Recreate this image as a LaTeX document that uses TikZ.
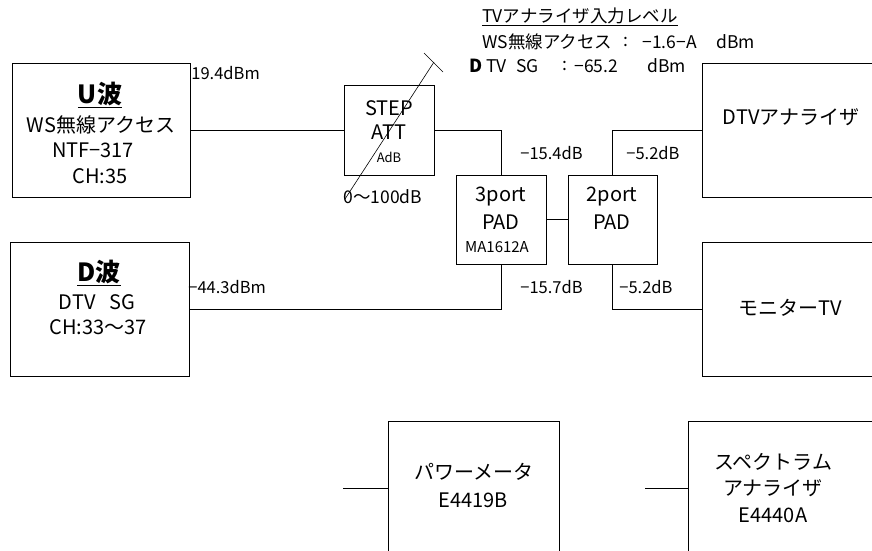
\documentclass[tikz,border=0pt]{standalone}
\usepackage{fontspec}
\setmainfont{Noto Sans CJK JP}
\begin{document}
\begin{tikzpicture}[x=1pt,y=-1pt,line width=0.8pt,
  box/.style={draw=black,rectangle,inner sep=0pt},
  big/.style={font=\fontsize{25}{28}\selectfont\bfseries,inner sep=0pt},
  main/.style={font=\fontsize{20}{22}\selectfont,inner sep=0pt},
  small/.style={font=\fontsize{13}{15}\selectfont,inner sep=0pt},
  lab/.style={font=\fontsize{16.5}{18}\selectfont,inner sep=0pt,anchor=west},
  toptxt/.style={font=\fontsize{17.5}{19}\selectfont,inner sep=0pt,anchor=west}]
\useasboundingbox (0,0) rectangle (872,551);
\clip (0,0) rectangle (872,551);
% boxes
\node[box,minimum width=178pt,minimum height=134pt] (u) at (101,130) {};
\node[box,minimum width=90pt,minimum height=90pt] (step) at (389,130) {};
\node[box,minimum width=90pt,minimum height=89pt] (p3) at (501,219.5) {};
\node[box,minimum width=89pt,minimum height=89pt] (p2) at (612.5,219.5) {};
\node[box,minimum width=178pt,minimum height=134pt] (dtv) at (791,130) {};
\node[box,minimum width=179pt,minimum height=134pt] (d) at (99.5,309) {};
\node[box,minimum width=178pt,minimum height=134pt] (mon) at (791,309) {};
\node[box,minimum width=171pt,minimum height=134pt] (pm) at (473.5,488) {};
\node[box,minimum width=192pt,minimum height=134pt] (sa) at (784,488) {};
% texts in boxes
\node[big] (ut1) at (100,95) {\underline{U波}};
\node[main] (ut2) at (101,125) {WS無線アクセス};
\node[main] (ut3) at (93,150) {NTF−317};
\node[main] (ut4) at (100,176) {CH:35};
\node[big] (dt1) at (99,273) {\underline{D波}};
\node[main] (dt2) at (97,302) {DTV\hspace{0.7em}SG};
\node[main] (dt3) at (98,327) {CH:33～37};
\node[main] (st1) at (389,108) {STEP};
\node[main] (st2) at (389,132) {ATT};
\node[small] (st3) at (389,157) {AdB};
\node[main] (p3t1) at (501,197) {3port};
\node[main] (p3t2) at (501,222) {PAD};
\node[small,font=\fontsize{15}{17}\selectfont] (p3t3) at (497,247) {MA1612A};
\node[main] (p2t1) at (612,197) {2port};
\node[main] (p2t2) at (612,222) {PAD};
\node[main] (dtvt) at (791,117) {DTVアナライザ};
\node[main] (mont) at (790,308) {モニターTV};
\node[main] (pmt1) at (474,472) {パワーメータ};
\node[main] (pmt2) at (473,500) {E4419B};
\node[main] (sat1) at (773,462) {スペクトラム};
\node[main] (sat2) at (773,488) {アナライザ};
\node[main] (sat3) at (773,515) {E4440A};
% connectors
\draw (u.east) -- (step.west);
\draw (step.east) -| (p3.north);
\draw (d.east) -| (p3.south);
\draw (p3.east) -- (p2.west);
\draw (p2.north) |- (dtv.west);
\draw (p2.south) |- (mon.west);
\coordinate (pmin) at (343,488);
\coordinate (sain) at (645,488);
\draw (pmin) -- (pm.west);
\draw (sain) -- (sa.west);
% variable attenuator symbol
\coordinate (attA) at (345,199);
\coordinate (attB) at (434,62);
\coordinate (tk1) at (424,53);
\coordinate (tk2) at (443,72);
\draw[line width=0.6pt] (attA) -- (attB);
\draw[line width=0.6pt] (tk1) -- (tk2);
% level labels
\node[lab] (l1) at (191,73) {19.4dBm};
\node[lab] (l2) at (188,287) {−44.3dBm};
\node[lab] (l3) at (520,153) {−15.4dB};
\node[lab] (l4) at (626,153) {−5.2dB};
\node[lab] (l5) at (520,287) {−15.7dB};
\node[lab] (l6) at (619,287) {−5.2dB};
\node[lab,font=\fontsize{17.5}{19}\selectfont] (l7) at (343,197) {0～100dB};
% top text
\node[toptxt] (tt1) at (482,17) {\underline{TVアナライザ入力レベル}};
\node[toptxt] (tt2) at (482,42) {WS無線アクセス};
\node[toptxt] (tt3) at (623,42) {:};
\node[toptxt] (tt4) at (642,42) {−1.6−A};
\node[toptxt] (tt5) at (716,42) {dBm};
\node[toptxt,font=\fontsize{18}{19}\selectfont\bfseries] (tt6) at (469,66) {D};
\node[toptxt] (tt7) at (486,66) {TV};
\node[toptxt] (tt8) at (516,66) {SG};
\node[toptxt] (tt9) at (562,66) {:};
\node[toptxt] (tt10) at (574,66) {−65.2};
\node[toptxt] (tt11) at (647,66) {dBm};
\end{tikzpicture}
\end{document}
